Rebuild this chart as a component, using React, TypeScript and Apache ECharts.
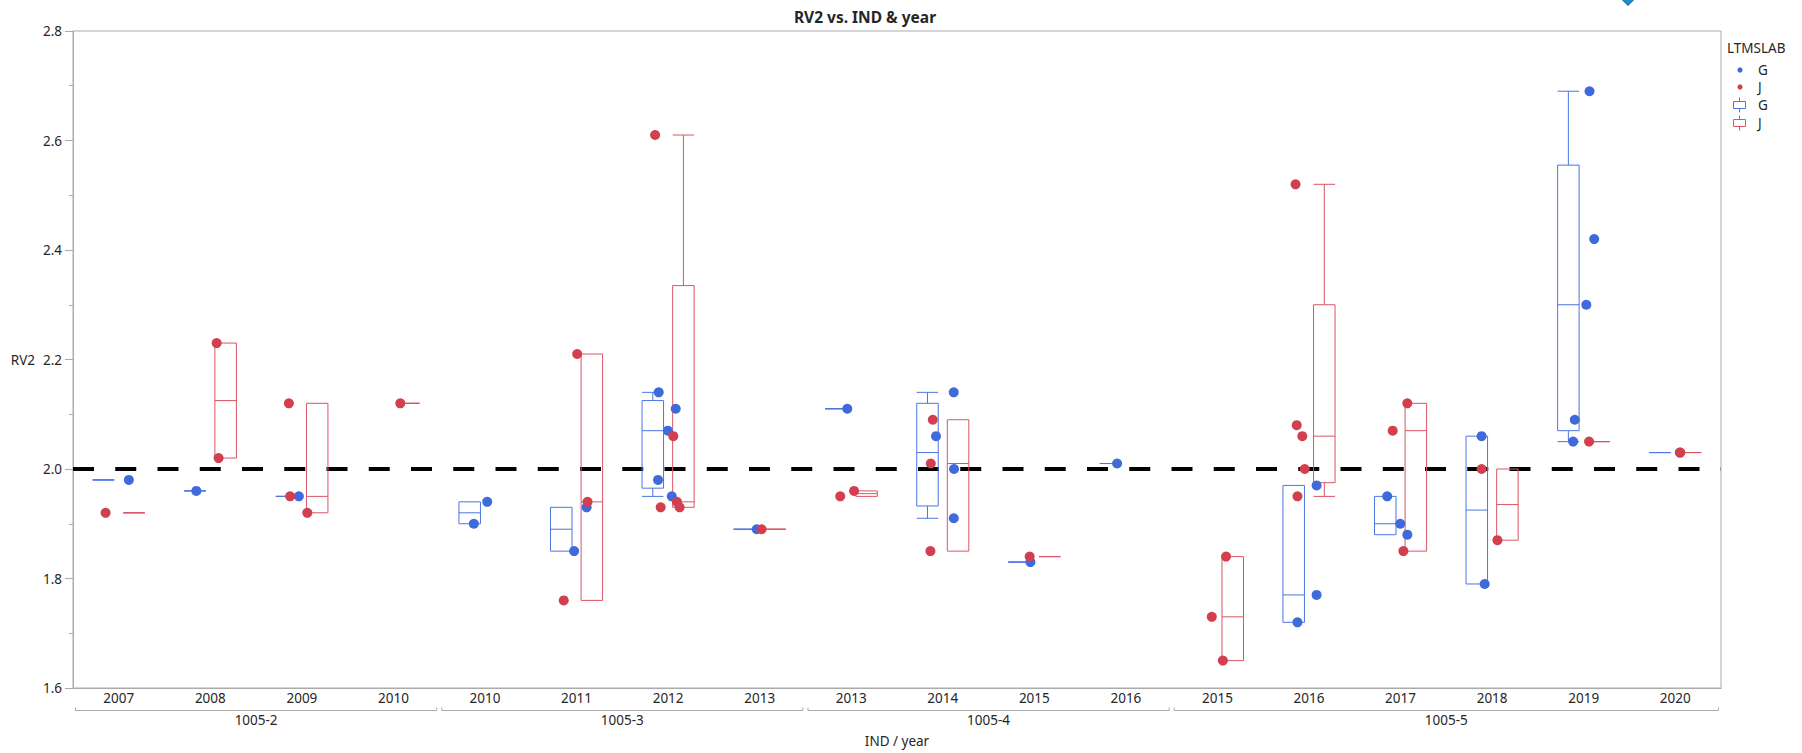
import React, { useEffect, useRef } from 'react';
import * as echarts from 'echarts';

// ---------- data ----------
const categories = ['2007', '2008', '2009', '2010', '2010', '2011', '2012', '2013', '2013', '2014', '2015', '2016', '2015', '2016', '2017', '2018', '2019', '2020'];
const groupNames = ['1005-2', '1005-3', '1005-4', '1005-5'];
const groupSpans = [[0, 4], [4, 8], [8, 12], [12, 18]];
const refValue = 2.0;
const yTicks = [1.6, 2.8, 0.2]; // min, max, interval

// LTMSLAB = G
const gValues = [
  [1.98],
  [1.96],
  [1.95],
  [],
  [1.94, 1.90],
  [1.85, 1.93],
  [2.14, 2.11, 2.07, 1.98, 1.95],
  [1.89],
  [2.11],
  [2.14, 2.06, 2.00, 1.91],
  [1.83],
  [2.01],
  [],
  [1.97, 1.77, 1.72],
  [1.95, 1.90, 1.88],
  [2.06, 1.79],
  [2.69, 2.42, 2.30, 2.09, 2.05],
  [2.03],
];
// horizontal jitter of each G point inside its category (category units)
const gJitter = [
  [0.11],
  [-0.153],
  [-0.033],
  [],
  [0.024, -0.122],
  [-0.027, 0.11],
  [-0.103, 0.083, -0.003, -0.11, 0.04],
  [-0.032],
  [-0.043],
  [0.12, -0.074, 0.123, 0.12],
  [-0.043],
  [-0.096],
  [],
  [0.083, 0.083, -0.126],
  [-0.146, -0.003, 0.074],
  [-0.115, -0.081],
  [0.064, 0.115, 0.029, -0.097, -0.115],
  [0.05],
];
// LTMSLAB = J
const jValues = [
  [1.92],
  [2.23, 2.02],
  [2.12, 1.95, 1.92],
  [2.12],
  [],
  [2.21, 1.94, 1.76],
  [2.61, 2.06, 1.93, 1.94, 1.93],
  [1.89],
  [1.96, 1.95],
  [2.09, 2.01, 1.85],
  [1.84],
  [],
  [1.84, 1.73, 1.65],
  [2.52, 2.08, 2.06, 2.00, 1.95],
  [2.12, 2.07, 1.85],
  [2.00, 1.87],
  [2.05],
  [2.03],
];
const jJitter = [
  [-0.144],
  [0.069, 0.09],
  [-0.142, -0.129, 0.059],
  [0.075],
  [],
  [0.007, 0.12, -0.14],
  [-0.142, 0.057, -0.081, 0.096, 0.126],
  [0.021],
  [0.031, -0.12],
  [-0.109, -0.131, -0.135],
  [-0.051],
  [],
  [0.094, -0.062, 0.059],
  [-0.147, -0.134, -0.073, -0.047, -0.126],
  [0.074, -0.086, 0.031],
  [-0.115, 0.058],
  [0.059],
  [0.056],
];

// ---------- styles ----------
const BLUE = '#3E6ADC';
const RED = '#D2404F';
const BLUE_BOX = '#4C75E2';
const RED_BOX = '#DA5565';
const GRAY = '#ababab';
const TEXT = '#262626';
const FONT = '"Noto Sans", "Segoe UI", sans-serif';
const BOX_OFFSET = 15.3;
const BOX_HALF = 10.75;

// ---------- helpers ----------
function quantile(s: number[], p: number) {
  const n = s.length;
  const pos = (n + 1) * p;
  if (pos <= 1) return s[0];
  if (pos >= n) return s[n - 1];
  const lo = Math.floor(pos);
  const f = pos - lo;
  return s[lo - 1] + f * (s[lo] - s[lo - 1]);
}
function boxStats(vals: number[]) {
  if (!vals.length) return null;
  const s = [...vals].sort((a, b) => a - b);
  const q1 = quantile(s, 0.25);
  const med = quantile(s, 0.5);
  const q3 = quantile(s, 0.75);
  const iqr = q3 - q1;
  const hi = Math.max(...s.filter((v) => v <= q3 + 1.5 * iqr + 1e-9));
  const lo = Math.min(...s.filter((v) => v >= q1 - 1.5 * iqr - 1e-9));
  return [lo, q1, med, q3, hi];
}
function boxData(values: number[][]) {
  const out: number[][] = [];
  values.forEach((v, i) => {
    const st = boxStats(v);
    if (st) out.push([i, ...st]);
  });
  return out;
}
function dotData(values: number[][], jitter: number[][]) {
  const out: number[][] = [];
  values.forEach((vals, i) => vals.forEach((v, k) => out.push([i + 0.5 + jitter[i][k], v])));
  return out;
}
function makeBoxRender(offsetPx: number, color: string) {
  return (params: any, api: any) => {
    const i = api.value(0);
    const lo = api.value(1), q1 = api.value(2), med = api.value(3), q3 = api.value(4), hi = api.value(5);
    const cx = api.coord([i + 0.5, med])[0] + offsetPx;
    const y = (v: number) => api.coord([i + 0.5, v])[1];
    const x0 = cx - BOX_HALF, x1 = cx + BOX_HALF;
    const style = { stroke: color, lineWidth: 1, fill: 'none' };
    const line = (ax: number, ay: number, bx: number, by: number) => ({
      type: 'line', shape: { x1: ax, y1: ay, x2: bx, y2: by }, style,
    });
    const children: any[] = [
      line(x0, y(q3), x1, y(q3)),
      line(x0, y(q1), x1, y(q1)),
      line(x0, y(q3), x0, y(q1)),
      line(x1, y(q3), x1, y(q1)),
      line(x0, y(med), x1, y(med)),
    ];
    if (hi > q3 + 1e-9) children.push(line(cx, y(q3), cx, y(hi)), line(x0, y(hi), x1, y(hi)));
    if (lo < q1 - 1e-9) children.push(line(cx, y(q1), cx, y(lo)), line(x0, y(lo), x1, y(lo)));
    return { type: 'group', children };
  };
}

const textStyle = (text: string, size: number, weight = 'normal') => ({
  text, fill: TEXT, fontSize: size, fontFamily: FONT, fontWeight: weight,
});

export default function App() {
  const ref = useRef<HTMLDivElement>(null);
  useEffect(() => {
    document.body.style.margin = '0';
    const chart = echarts.init(ref.current!, undefined, { renderer: 'svg' });

    const legendIcon = (cy: number, color: string) => ({
      type: 'group',
      children: [
        { type: 'rect', shape: { x: 1733.5, y: cy - 3.5, width: 12, height: 7 }, style: { fill: 'none', stroke: color, lineWidth: 1 } },
        { type: 'line', shape: { x1: 1739.5, y1: cy - 7.5, x2: 1739.5, y2: cy - 3.5 }, style: { stroke: color, lineWidth: 1 } },
        { type: 'line', shape: { x1: 1739.5, y1: cy + 3.5, x2: 1739.5, y2: cy + 7.5 }, style: { stroke: color, lineWidth: 1 } },
      ],
    });
    const legendText = (t: string, y: number) => ({
      type: 'text', x: 1758, y,
      style: { ...textStyle(t, 13.5), textVerticalAlign: 'middle', verticalAlign: 'middle' },
    });

    const option: any = {
      animation: false,
      backgroundColor: '#fff',
      textStyle: { fontFamily: FONT },
      grid: { left: 73, right: 81, top: 31, bottom: 60, show: true, borderColor: GRAY, borderWidth: 1, containLabel: false },
      xAxis: [
        {
          type: 'category', data: categories, boundaryGap: true, position: 'bottom',
          axisLine: { show: true, lineStyle: { color: GRAY } },
          axisTick: { show: false },
          axisLabel: { interval: 0, margin: 3, fontSize: 13.5, color: TEXT, fontFamily: FONT },
          name: 'IND / year', nameLocation: 'middle', nameGap: 46,
          nameTextStyle: { fontSize: 13.5, color: TEXT, fontFamily: FONT },
        },
        { type: 'value', min: 0, max: categories.length, show: false },
      ],
      yAxis: {
        type: 'value', min: yTicks[0], max: yTicks[1], interval: yTicks[2],
        axisLine: { show: true, lineStyle: { color: GRAY } },
        axisTick: { show: true, length: 8, lineStyle: { color: GRAY } },
        minorTick: { show: true, splitNumber: 2, length: 4, lineStyle: { color: GRAY } },
        splitLine: { show: false },
        axisLabel: { margin: 11, fontSize: 13.5, color: TEXT, fontFamily: FONT, formatter: (v: number) => v.toFixed(1) },
        name: 'RV2', nameLocation: 'middle', nameRotate: 0, nameGap: 38,
        nameTextStyle: { fontSize: 13.5, color: TEXT, fontFamily: FONT },
      },
      graphic: [
        { type: 'polygon', shape: { points: [[1620.5, -2], [1628, -9.5], [1635.5, -2], [1628, 5.5]] }, style: { fill: '#1B8CCB', stroke: '#0D5E8C', lineWidth: 1 } },
        { type: 'text', x: 865, y: 17, style: { ...textStyle('RV2 vs. IND & year', 15.5, 'bold'), textAlign: 'center', align: 'center', textVerticalAlign: 'middle', verticalAlign: 'middle' } },
        { type: 'text', x: 1727, y: 48, style: { ...textStyle('LTMSLAB', 13.5), textVerticalAlign: 'middle', verticalAlign: 'middle' } },
        { type: 'circle', shape: { cx: 1740, cy: 70, r: 2.6 }, style: { fill: BLUE } },
        legendText('G', 70),
        { type: 'circle', shape: { cx: 1740, cy: 87, r: 2.6 }, style: { fill: RED } },
        legendText('J', 87),
        legendIcon(105, BLUE_BOX),
        legendText('G', 105),
        legendIcon(123, RED_BOX),
        legendText('J', 123),
      ],
      series: [
        {
          type: 'custom', name: 'ref', xAxisIndex: 1, yAxisIndex: 0, z: 1, silent: true, clip: false,
          data: [[0, categories.length, refValue]], encode: { x: [0, 1], y: 2 },
          renderItem: (p: any, api: any) => {
            const a = api.coord([api.value(0), api.value(2)]);
            const b = api.coord([api.value(1), api.value(2)]);
            return { type: 'line', shape: { x1: a[0], y1: a[1], x2: b[0], y2: b[1] }, style: { stroke: '#000', lineWidth: 4, lineDash: [21, 21.25], fill: 'none' } };
          },
        },
        {
          type: 'custom', name: 'groups', xAxisIndex: 1, yAxisIndex: 0, z: 1, silent: true, clip: false,
          data: groupSpans.map(([s, e], k) => [s, e, k, yTicks[0]]), encode: { x: [0, 1], y: 3 },
          renderItem: (p: any, api: any) => {
            const a = api.coord([api.value(0), api.value(3)]);
            const b = api.coord([api.value(1), api.value(3)]);
            const k = api.value(2);
            const yb = a[1];
            return {
              type: 'group',
              children: [
                { type: 'polyline', shape: { points: [[a[0] + 2.5, yb + 19.5], [a[0] + 2.5, yb + 22.5], [b[0] - 2.5, yb + 22.5], [b[0] - 2.5, yb + 19.5]] }, style: { stroke: GRAY, lineWidth: 1, fill: 'none' } },
                { type: 'text', x: (a[0] + b[0]) / 2, y: yb + 31.5, style: { ...textStyle(groupNames[k], 13.5), textAlign: 'center', align: 'center', textVerticalAlign: 'middle', verticalAlign: 'middle' } },
              ],
            };
          },
        },
        {
          type: 'custom', name: 'G box', xAxisIndex: 1, yAxisIndex: 0, z: 2, silent: true,
          data: boxData(gValues), encode: { x: 0, y: [1, 2, 3, 4, 5] },
          renderItem: makeBoxRender(-BOX_OFFSET, BLUE_BOX),
        },
        {
          type: 'custom', name: 'J box', xAxisIndex: 1, yAxisIndex: 0, z: 2, silent: true,
          data: boxData(jValues), encode: { x: 0, y: [1, 2, 3, 4, 5] },
          renderItem: makeBoxRender(BOX_OFFSET, RED_BOX),
        },
        {
          type: 'scatter', name: 'G', xAxisIndex: 1, yAxisIndex: 0, z: 3,
          data: dotData(gValues, gJitter), symbol: 'circle', symbolSize: 10,
          itemStyle: { color: BLUE, opacity: 1 },
        },
        {
          type: 'scatter', name: 'J', xAxisIndex: 1, yAxisIndex: 0, z: 3,
          data: dotData(jValues, jJitter), symbol: 'circle', symbolSize: 10,
          itemStyle: { color: RED, opacity: 1 },
        },
      ],
    };
    chart.setOption(option);
    return () => chart.dispose();
  }, []);
  return <div ref={ref} style={{ width: 1802, height: 753 }} />;
}
